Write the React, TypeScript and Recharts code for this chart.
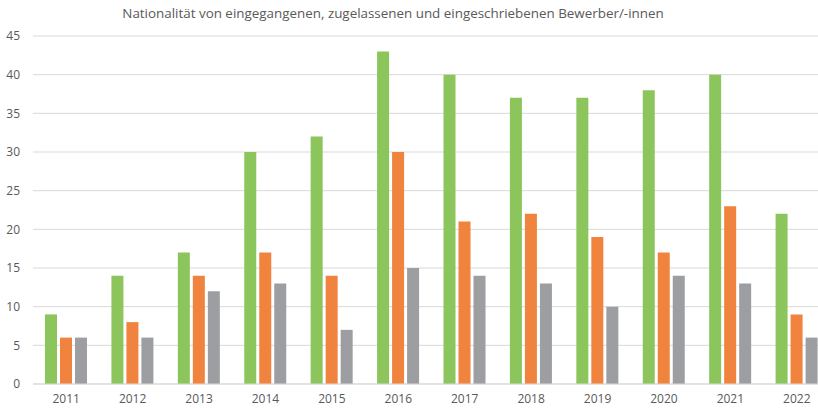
import { BarChart, Bar, XAxis, YAxis, CartesianGrid } from "recharts";

const years = ["2011", "2012", "2013", "2014", "2015", "2016", "2017", "2018", "2019", "2020", "2021", "2022"];
const eingegangen = [9, 14, 17, 30, 32, 43, 40, 37, 37, 38, 40, 22];
const zugelassen = [6, 8, 14, 17, 14, 30, 21, 22, 19, 17, 23, 9];
const eingeschrieben = [6, 6, 12, 13, 7, 15, 14, 13, 10, 14, 13, 6];
const yTicks = [0, 5, 10, 15, 20, 25, 30, 35, 40, 45];

const data = years.map((y, i) => ({
  year: y,
  eingegangen: eingegangen[i],
  zugelassen: zugelassen[i],
  eingeschrieben: eingeschrieben[i],
}));

const font = "'Open Sans', sans-serif";

export default function App() {
  return (
    <div
      style={{
        position: "absolute",
        left: 0,
        top: 0,
        width: 818,
        height: 409,
        overflow: "hidden",
        background: "#fff",
        fontFamily: font,
      }}
    >
      <div
        style={{
          position: "absolute",
          top: 4,
          left: 0,
          width: 786,
          textAlign: "center",
          fontSize: 13.4,
          color: "#595959",
        }}
      >
        Nationalität von eingegangenen, zugelassenen und eingeschriebenen Bewerber/-innen
      </div>
      <BarChart
        width={830}
        height={409}
        data={data}
        margin={{ top: 36, right: 0, bottom: 0, left: 0 }}
        barSize={12}
        barGap={3}
      >
        <CartesianGrid vertical={false} stroke="#d9d9d9" />
        <XAxis
          dataKey="year"
          height={25}
          axisLine={{ stroke: "#d9d9d9" }}
          tickLine={false}
          tick={{ fontSize: 12, fill: "#595959", fontFamily: font }}
          tickMargin={4}
          interval={0}
        />
        <YAxis
          width={33}
          domain={[0, 45]}
          ticks={yTicks}
          axisLine={false}
          tickLine={false}
          tickMargin={7}
          tick={{ fontSize: 12, fill: "#595959", fontFamily: font }}
        />
        <Bar dataKey="eingegangen" fill="#8cc55c" isAnimationActive={false} />
        <Bar dataKey="zugelassen" fill="#f0843e" isAnimationActive={false} />
        <Bar dataKey="eingeschrieben" fill="#9d9ea2" isAnimationActive={false} />
      </BarChart>
    </div>
  );
}
